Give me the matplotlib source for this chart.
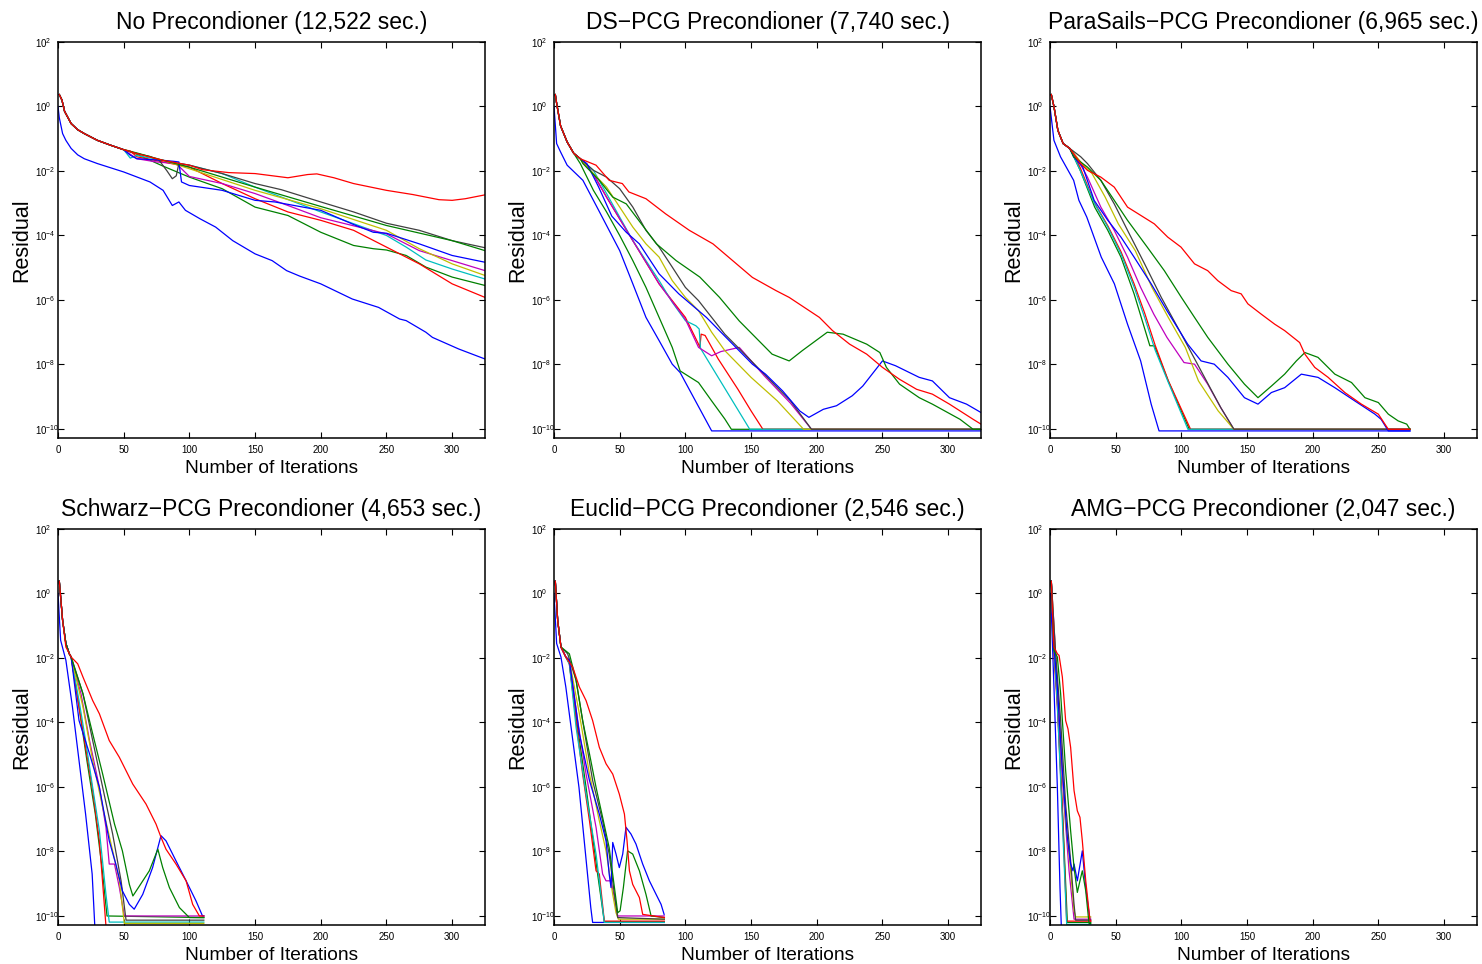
import numpy as np
import matplotlib
matplotlib.use('Agg')
import matplotlib.pyplot as plt

plt.rcParams['font.family'] = ['Liberation Sans', 'DejaVu Sans']
plt.rcParams['mathtext.default'] = 'regular'

# old matlab colour order, 10 runs in every panel
line_colors = ['#0000ff', '#008000', '#ff0000', '#00bfbf', '#bf00bf',
               '#bfbf00', '#404040', '#0000ff', '#008000', '#ff0000']

panel_titles = ['No Precondioner (12,522 sec.)',
                'DS\u2212PCG Precondioner (7,740 sec.)',
                'ParaSails\u2212PCG Precondioner (6,965 sec.)',
                'Schwarz\u2212PCG Precondioner (4,653 sec.)',
                'Euclid\u2212PCG Precondioner (2,546 sec.)',
                'AMG\u2212PCG Precondioner (2,047 sec.)']

# residuals are kept as log10 values

# --- no preconditioner ---
none_start_it = [1, 3, 5, 10, 15, 20, 30, 40, 50]
none_start_lr = [0.37, 0.2, -0.15, -0.53, -0.72, -0.84, -1.05, -1.2, -1.34]
none_iters = [
    [0, 1, 3.5, 6, 10, 15, 20, 30, 50, 70, 80, 87, 92, 97, 108, 120, 133, 150, 163, 174, 184, 200, 224, 244, 260, 265, 280, 285, 305, 325],
    none_start_it + [60, 80, 100, 125, 150, 175, 200, 225, 240, 250, 265, 280, 300, 325],
    none_start_it + [55, 60, 80, 100, 125, 150, 175, 200, 225, 250, 275, 300, 325],
    none_start_it + [55, 60, 80, 100, 125, 150, 200, 250, 265, 280, 300, 325],
    none_start_it + [60, 75, 90, 100, 125, 150, 175, 200, 250, 275, 300, 325],
    none_start_it + [60, 80, 100, 150, 200, 250, 275, 300, 325],
    none_start_it + [60, 70, 77, 83, 87, 90, 92, 100, 125, 150, 170, 200, 225, 250, 275, 300, 325],
    none_start_it + [55, 60, 80, 88, 92, 94, 100, 125, 150, 165, 200, 225, 240, 250, 275, 300, 325],
    none_start_it + [60, 80, 100, 150, 200, 250, 300, 325],
    none_start_it + [60, 80, 100, 110, 130, 150, 175, 190, 197, 210, 225, 250, 270, 290, 300, 310, 325],
]
none_logres = [
    [0, -0.35, -0.84, -1.05, -1.3, -1.5, -1.62, -1.77, -2.03, -2.34, -2.6, -3.07, -2.96, -3.22, -3.48, -3.74, -4.16, -4.57, -4.78, -5.09, -5.26, -5.5, -5.97, -6.23, -6.59, -6.64, -7.0, -7.16, -7.52, -7.83],
    none_start_lr + [-1.48, -1.85, -2.19, -2.55, -3.12, -3.38, -3.9, -4.31, -4.41, -4.45, -4.62, -4.98, -5.29, -5.55],
    none_start_lr + [-1.38, -1.56, -1.72, -1.88, -2.39, -2.86, -3.27, -3.53, -3.84, -4.36, -4.88, -5.5, -5.92],
    none_start_lr + [-1.6, -1.52, -1.67, -1.82, -2.08, -2.5, -3.27, -4.0, -4.36, -4.76, -5.04, -5.35],
    none_start_lr + [-1.62, -1.72, -1.77, -2.17, -2.39, -2.7, -3.07, -3.45, -3.95, -4.47, -4.78, -5.09],
    none_start_lr + [-1.46, -1.67, -1.93, -2.6, -3.17, -3.84, -4.41, -4.88, -5.24],
    none_start_lr + [-1.46, -1.55, -1.67, -2.0, -2.24, -2.15, -1.77, -1.82, -2.08, -2.39, -2.58, -2.96, -3.27, -3.62, -3.84, -4.16, -4.38],
    none_start_lr + [-1.51, -1.62, -1.67, -1.7, -1.72, -2.34, -2.45, -2.6, -2.91, -2.96, -3.22, -3.66, -3.9, -3.93, -4.26, -4.62, -4.83],
    none_start_lr + [-1.44, -1.67, -1.88, -2.5, -3.1, -3.69, -4.16, -4.47],
    none_start_lr + [-1.46, -1.67, -1.82, -1.96, -2.05, -2.08, -2.21, -2.11, -2.09, -2.21, -2.39, -2.6, -2.73, -2.89, -2.91, -2.86, -2.74],
]

# --- DS-PCG ---
ds_start_it = [1, 2, 5, 10, 15, 20]
ds_start_lr = [0.37, 0.1, -0.6, -1.1, -1.45, -1.62]
ds_iters = [
    [0, 2, 5, 10, 22, 34, 50, 60, 70, 80, 90, 96, 120, 325],
    [1, 2, 5, 10, 15, 20, 30, 40, 50, 60, 70, 80, 90, 96, 110, 120, 130, 135, 325],
    ds_start_it + [30, 40, 60, 80, 100, 110, 111, 112, 115, 125, 140, 150, 159, 325],
    ds_start_it + [30, 40, 50, 60, 70, 80, 90, 100, 108, 110.5, 111.5, 149, 325],
    ds_start_it + [30, 40, 60, 80, 100, 110, 120, 127, 141, 160, 180, 196, 325],
    ds_start_it + [30, 40, 50, 60, 70, 80, 90, 100, 110, 120, 130, 150, 170, 190, 325],
    ds_start_it + [30, 40, 50, 60, 70, 80, 90, 100, 110, 120, 130, 140, 160, 180, 196, 325],
    ds_start_it + [25, 34, 44, 55, 65, 80, 95, 116, 136, 151, 161, 174, 187, 194, 205, 215, 227, 235, 250, 260, 268, 278, 288, 301, 314, 325],
    ds_start_it + [22, 34.5, 44.7, 55, 78, 93, 111, 126, 141, 166, 179, 189, 208, 220, 238, 248, 253, 263, 278, 288, 309, 319, 325],
    ds_start_it + [32, 42, 52, 57, 70, 85, 103, 121, 136, 151, 169, 179, 202, 212, 225, 238, 250, 263, 276, 288, 301, 319, 325],
]
ds_logres = [
    [0, -1.15, -1.41, -1.82, -2.29, -3.22, -4.47, -5.5, -6.54, -7.26, -7.99, -8.25, -10.06, -10.06],
    [0.37, 0.1, -0.6, -1.1, -1.45, -1.77, -2.6, -3.27, -4.0, -4.78, -5.61, -6.54, -7.47, -8.2, -8.56, -9.13, -9.69, -10.01, -10.01],
    ds_start_lr + [-2.1, -2.81, -4.16, -5.5, -6.54, -7.37, -7.47, -7.06, -7.1, -7.83, -8.77, -9.44, -10.01, -10.01],
    ds_start_lr + [-1.98, -2.7, -3.43, -4.16, -4.78, -5.4, -6.07, -6.64, -6.8, -6.9, -7.5, -10.01, -10.01],
    ds_start_lr + [-2.1, -2.81, -4.16, -5.5, -6.6, -7.47, -7.73, -7.6, -7.47, -8.35, -9.2, -10.01, -10.01],
    ds_start_lr + [-2.08, -2.5, -3.12, -3.74, -4.26, -4.67, -5.4, -5.92, -6.33, -7.0, -7.57, -8.4, -9.13, -10.01, -10.01],
    ds_start_lr + [-1.98, -2.19, -2.55, -3.12, -3.84, -4.36, -4.98, -5.61, -6.02, -6.54, -7.06, -7.47, -8.3, -9.13, -10.01, -10.01],
    ds_start_lr + [-1.77, -2.5, -3.4, -3.9, -4.26, -5.19, -5.81, -6.54, -7.37, -7.99, -8.3, -8.82, -9.44, -9.64, -9.39, -9.28, -8.97, -8.67, -7.89, -8.04, -8.2, -8.4, -8.51, -9.03, -9.23, -9.49],
    ds_start_lr + [-1.77, -2.29, -2.81, -3.02, -4.26, -4.78, -5.29, -5.92, -6.65, -7.68, -7.89, -7.57, -7.0, -7.06, -7.37, -7.63, -8.09, -8.61, -9.03, -9.23, -9.7, -10.01, -10.01],
    ds_start_lr + [-1.82, -2.29, -2.39, -2.65, -2.86, -3.33, -3.84, -4.26, -4.78, -5.3, -5.71, -5.92, -6.54, -6.95, -7.37, -7.68, -8.09, -8.46, -8.77, -8.92, -9.23, -9.7, -9.85],
]

# --- ParaSails-PCG ---
ps_start_it = [1, 3, 6, 10, 15]
ps_start_lr = [0.37, 0.0, -0.74, -1.15, -1.3]
ps_iters = [
    [0, 3, 8, 18, 22, 28, 39, 49, 59, 69, 77, 83, 274],
    ps_start_it + [17, 23, 34, 44, 54, 64, 76, 79.5, 90, 106, 274],
    ps_start_it + [17, 23, 34, 44, 54, 64, 72, 80, 90, 107, 274],
    ps_start_it + [17, 23, 34, 44, 54, 64, 72, 80, 90, 105, 274],
    ps_start_it + [20, 28.5, 38.7, 48.9, 59, 69, 79, 89, 102, 110, 120, 130, 140, 274],
    ps_start_it + [24.4, 32, 42, 52, 64.9, 77.6, 90, 103, 113, 128, 140, 274],
    ps_start_it + [23.4, 28.5, 38.7, 48.9, 59, 72, 84.7, 100, 115, 130, 140, 274],
    ps_start_it + [18, 25, 33.6, 44, 54, 64, 77, 89, 104.8, 115, 125, 135.4, 148, 158.3, 168.5, 178.6, 191.3, 204, 216.8, 232, 247.3, 252, 257.5, 274],
    ps_start_it + [18, 28.5, 38.7, 48.9, 59, 74, 87, 100, 110, 120.1, 135.4, 148, 158.3, 168.5, 178.6, 187.5, 194, 204, 216.8, 229.5, 239.7, 249.9, 257.5, 265, 271.5, 274],
    ps_start_it + [23.4, 28.5, 38.7, 48.9, 59, 69.2, 79.4, 89.6, 99.7, 110, 120, 127.7, 137.9, 145.5, 150.6, 160.8, 171, 178.6, 190, 194, 201.5, 211.7, 224.4, 237, 249.9, 257.5, 274],
]
ps_logres = [
    [0, -1.05, -1.56, -2.29, -2.91, -3.43, -4.67, -5.5, -6.75, -7.89, -9.23, -10.06, -10.06],
    ps_start_lr + [-1.46, -1.98, -3.12, -3.84, -4.67, -5.81, -7.42, -7.42, -8.51, -10.01, -10.01],
    ps_start_lr + [-1.4, -1.9, -3.0, -3.7, -4.5, -5.5, -6.4, -7.4, -8.5, -10.01, -10.01],
    ps_start_lr + [-1.46, -1.98, -3.02, -3.74, -4.57, -5.6, -6.54, -7.55, -8.55, -10.01, -10.01],
    ps_start_lr + [-1.56, -2.19, -3.12, -3.84, -4.67, -5.61, -6.44, -7.16, -7.94, -7.99, -8.61, -9.34, -10.01, -10.01],
    ps_start_lr + [-1.77, -2.08, -2.81, -3.64, -4.47, -5.61, -6.54, -7.47, -8.51, -9.44, -10.01, -10.01],
    ps_start_lr + [-1.56, -1.77, -2.29, -3.02, -3.84, -4.88, -5.92, -7.06, -8.2, -9.34, -10.01, -10.01],
    ps_start_lr + [-1.56, -1.88, -2.91, -3.53, -4.05, -4.67, -5.5, -6.33, -7.37, -7.89, -7.99, -8.4, -9.03, -9.23, -8.87, -8.72, -8.3, -8.4, -8.72, -9.13, -9.54, -9.7, -10.06, -10.06],
    ps_start_lr + [-1.56, -1.88, -2.29, -2.91, -3.53, -4.36, -5.09, -5.92, -6.54, -7.16, -7.99, -8.61, -9.03, -8.67, -8.3, -7.89, -7.63, -7.78, -8.3, -8.56, -9.03, -9.18, -9.54, -9.75, -9.85, -10.01],
    ps_start_lr + [-1.77, -1.98, -2.19, -2.5, -3.12, -3.38, -3.64, -4.05, -4.36, -4.88, -5.09, -5.4, -5.71, -5.81, -6.12, -6.44, -6.75, -6.95, -7.32, -7.68, -8.09, -8.4, -8.87, -9.23, -9.54, -10.01, -10.01],
]

# --- Schwarz-PCG ---
sz_start_it = [1, 3.5, 6, 8.6, 10]
sz_start_lr = [0.38, -0.83, -1.55, -1.87, -1.97]
sz_iters = [
    [0, 2, 6, 11, 16, 21, 26, 28, 29],
    sz_start_it + [16, 22, 28.4, 33.5, 37.3, 111],
    sz_start_it + [16, 21, 26, 31.5, 36.5, 38],
    sz_start_it + [16, 21, 26, 31.5, 36.5, 39, 111],
    sz_start_it + [17.5, 24, 31.5, 36.5, 39, 43, 46.7, 50.5, 111],
    sz_start_it + [19, 26.4, 34, 41.6, 46.7, 50.5, 111],
    sz_start_it + [19, 26.4, 34, 41.6, 48, 51.8, 111],
    sz_start_it + [16, 24, 31.5, 39, 44, 49, 54.3, 58, 64.5, 72, 78.4, 82.2, 89.8, 97.5, 105, 110, 111],
    sz_start_it + [19, 26.4, 34, 43, 49, 54.3, 57, 62, 69.5, 76, 79.7, 84.8, 92.4, 100, 111],
    [1, 3.5, 6, 10, 15, 19, 26.4, 31.5, 39, 46.7, 56.9, 67, 74.6, 78.4, 82.2, 89.8, 97.5, 102.5, 107.6, 111],
]
sz_logres = [
    [0, -1.45, -2.07, -3.52, -5.18, -6.84, -8.7, -10.31, -11.0],
    sz_start_lr + [-3.52, -5.18, -6.84, -8.5, -10.0, -10.05],
    sz_start_lr + [-3.52, -4.77, -6.01, -7.67, -10.31, -11.0],
    sz_start_lr + [-3.32, -4.56, -5.91, -7.36, -9.33, -10.19, -10.19],
    sz_start_lr + [-3.11, -4.56, -6.01, -7.25, -8.39, -8.39, -9.12, -10.0, -10.0],
    sz_start_lr + [-3.52, -5.18, -6.63, -7.98, -8.91, -10.23, -10.23],
    sz_start_lr + [-3.11, -4.56, -6.01, -7.46, -8.91, -10.13, -10.13],
    sz_start_lr + [-3.94, -4.97, -6.01, -7.67, -8.39, -9.22, -9.64, -9.79, -9.33, -8.5, -7.51, -7.67, -8.29, -8.91, -9.53, -10.0, -10.0],
    sz_start_lr + [-3.11, -4.35, -5.6, -7.15, -7.98, -9.02, -9.38, -9.07, -8.6, -7.93, -8.5, -9.12, -9.74, -10.05, -10.05],
    [0.38, -0.83, -1.66, -1.97, -2.18, -2.59, -3.32, -3.73, -4.56, -5.08, -5.91, -6.53, -7.15, -7.56, -7.93, -8.39, -8.91, -9.64, -10.0, -10.0],
]

# --- Euclid-PCG ---
eu_start_it = [1, 2.8, 5.3, 9]
eu_start_lr = [0.38, -0.83, -1.66, -1.97]
eu_iters = [
    [0, 2, 5.3, 9, 14, 19, 24, 28, 29.4, 84],
    eu_start_it + [11.7, 18, 24.4, 33.2, 38.3, 84],
    eu_start_it + [11.7, 16.8, 21.8, 27, 32, 34.5, 38.3, 84],
    eu_start_it + [11.7, 16.8, 24.4, 32, 38.3, 84],
    eu_start_it + [11.7, 18, 24.4, 32, 37, 39.6, 43.4, 46, 48.5, 84],
    eu_start_it + [11.7, 19.3, 27, 34.5, 39.6, 44.7, 47.2, 49, 84],
    [1, 2.8, 5.3, 10.4, 16.8, 21.8, 29.4, 37, 42, 46, 48.5, 84],
    eu_start_it + [11.7, 19.3, 27, 34.5, 39.6, 42, 43.4, 44.7, 47.2, 49.7, 52.3, 54.8, 58.6, 62.4, 67.5, 72.6, 77.7, 81.5, 83.8],
    [1, 2.8, 5.3, 11.7, 16.8, 21.8, 27, 32, 37, 42, 46, 48.5, 50.3, 52.8, 56, 59.9, 65, 70, 73.9, 84],
    [1, 2.8, 5.3, 9, 14.2, 19.3, 24.4, 29.4, 34.5, 39.6, 44.7, 49.7, 53.6, 55.6, 57.4, 59.9, 65, 67.5, 84],
]
eu_logres = [
    [0, -1.55, -1.97, -2.9, -4.46, -6.01, -8.08, -9.74, -10.2, -10.2],
    eu_start_lr + [-2.18, -4.15, -6.01, -8.7, -10.18, -10.18],
    eu_start_lr + [-2.18, -3.94, -5.6, -7.05, -8.6, -8.7, -10.16, -10.16],
    eu_start_lr + [-2.18, -4.15, -6.22, -8.08, -10.2, -10.2],
    eu_start_lr + [-2.07, -3.94, -5.6, -7.25, -8.7, -8.91, -8.91, -9.43, -10.0, -10.0],
    eu_start_lr + [-2.07, -3.73, -5.6, -7.05, -7.98, -9.33, -9.9, -10.1, -10.1],
    [0.38, -0.83, -1.66, -1.87, -2.69, -3.94, -5.8, -7.05, -8.08, -9.33, -10.05, -10.1],
    eu_start_lr + [-2.07, -4.35, -5.8, -6.84, -7.67, -8.7, -9.12, -7.72, -8.08, -8.5, -8.08, -7.25, -7.46, -7.77, -8.39, -8.91, -9.33, -9.64, -9.95],
    [0.38, -0.83, -1.66, -1.87, -2.69, -3.94, -4.97, -6.01, -6.94, -7.88, -9.12, -9.9, -9.84, -9.12, -7.98, -8.08, -8.6, -9.33, -10.0, -10.05],
    [0.38, -0.83, -1.66, -1.97, -2.28, -2.9, -3.32, -3.94, -4.77, -5.28, -5.6, -6.22, -6.84, -7.67, -8.6, -9.02, -9.43, -9.95, -10.05],
]

# --- AMG-PCG ---
amg_iters = [
    [0.5, 3, 5.6, 7.6, 8.6, 9.1],
    [1, 3, 5.6, 9.4, 13.2, 31],
    [1, 3, 5.6, 9.4, 12.7, 31],
    [1, 3, 5.6, 9.4, 12.7, 31],
    [1, 4.3, 6.9, 10.7, 14.5, 18.3, 31],
    [1, 4.3, 8.1, 11.9, 15.7, 18.3, 19.5, 31],
    [1, 4.3, 8.1, 11.9, 15.7, 18.3, 19.5, 31],
    [1, 3, 5.6, 9.4, 13.2, 15.7, 17.5, 18.3, 20.8, 24.6, 27.2, 30.5],
    [1, 3, 5.6, 8.1, 11.9, 15.7, 18.3, 20.8, 22.8, 24.6, 27.2, 29.7, 31],
    [1, 3, 5.6, 6.9, 9.4, 11.9, 13.7, 15.7, 18.3, 20.8, 22.8, 24.6, 27.2, 30.5, 31],
]
amg_logres = [
    [0, -2.9, -6.01, -9.12, -10.31, -11.2],
    [0.38, -1.76, -3.32, -6.63, -10.2, -10.2],
    [0.38, -1.87, -3.52, -6.74, -10.16, -10.16],
    [0.38, -1.66, -3.42, -7.05, -10.26, -10.26],
    [0.38, -1.87, -3.94, -6.53, -8.6, -10.1, -10.1],
    [0.38, -1.97, -4.46, -7.05, -8.6, -9.84, -10.03, -10.03],
    [0.38, -1.87, -3.94, -6.53, -8.29, -9.64, -10.13, -10.13],
    [0.38, -1.66, -2.9, -5.49, -7.56, -8.39, -8.6, -8.39, -8.91, -7.98, -9.12, -10.16],
    [0.38, -1.76, -1.97, -3.11, -5.49, -7.36, -8.5, -9.27, -8.91, -8.6, -9.22, -10.23, -10.23],
    [0.38, -1.66, -1.87, -1.92, -2.59, -3.94, -4.2, -4.77, -6.11, -6.74, -6.94, -7.67, -8.91, -10.16, -10.16],
]

all_iters = [none_iters, ds_iters, ps_iters, sz_iters, eu_iters, amg_iters]
all_logres = [none_logres, ds_logres, ps_logres, sz_logres, eu_logres, amg_logres]

W, H = 1482, 964
fig = plt.figure(figsize=(W / 100, H / 100), dpi=100)

# axes boxes in pixels (left, top, width, height)
col_left = [58, 554, 1050]
row_top = [42, 529]
box_w, box_h = 427, 396

for k in range(6):
    row, col = divmod(k, 3)
    ax = fig.add_axes([col_left[col] / W, 1 - (row_top[row] + box_h) / H,
                       box_w / W, box_h / H])
    for its, lr, c in zip(all_iters[k], all_logres[k], line_colors):
        ax.plot(its, 10.0 ** np.array(lr), color=c, lw=0.9)

    ax.set_yscale('log')
    ax.set_ylim(10 ** -10.28, 1e2)
    ax.set_xlim(0, 325)
    ax.set_xticks(range(0, 301, 50))
    ax.set_yticks([10.0 ** e for e in range(-10, 3, 2)])
    ax.minorticks_off()
    ax.tick_params(direction='in', top=True, right=True, length=4,
                   width=0.8, labelsize=7)
    ax.tick_params(axis='x', pad=5)
    # matlab puts the exponent labels left aligned
    ax.tick_params(axis='y', pad=16.5)
    for lbl in ax.get_yticklabels():
        lbl.set_horizontalalignment('left')
    for s in ax.spines.values():
        s.set_linewidth(1.1)

    ax.set_title(panel_titles[k], fontsize=16.5, pad=9.5)
    ax.set_xlabel('Number of Iterations', fontsize=13.8, labelpad=3.5)
    ax.set_ylabel('Residual', fontsize=15.5, labelpad=2)

fig.savefig('out.png', dpi=100)
